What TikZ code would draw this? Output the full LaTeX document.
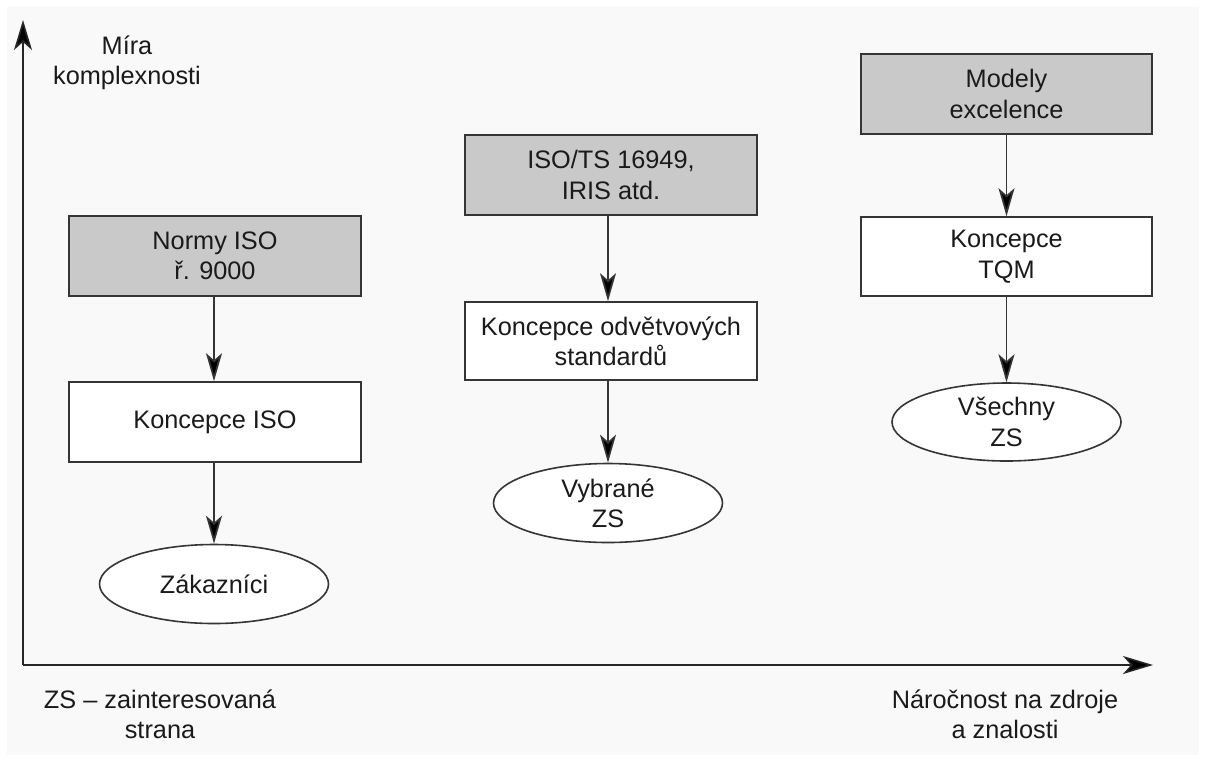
\documentclass[tikz,border=0pt]{standalone}
\usepackage{fontspec}
\setmainfont{Liberation Sans}
\usetikzlibrary{shapes.geometric,arrows.meta}
\definecolor{paper}{HTML}{F9F9F9}
\definecolor{ink}{HTML}{1A1A1A}
\definecolor{edge}{HTML}{353535}
\definecolor{shade}{HTML}{C9C9C9}
\tikzset{
  every node/.style={font=\fontsize{25.3}{30.4}\selectfont, text=ink, align=center},
  box/.style={draw=edge, line width=1.6pt, rectangle, inner sep=0pt,
              minimum width=292pt, minimum height=80pt},
  normbox/.style={box, fill=shade},
  party/.style={draw=edge, line width=1.6pt, ellipse, inner sep=0pt, fill=white,
                minimum width=229pt, minimum height=79pt},
  flow/.style={draw=edge, line width=1.7pt,
               -{Stealth[length=28pt, width=16pt, inset=7pt, fill=black]}},
  axis/.style={draw=black!85, line width=1.6pt,
               -{Stealth[length=30pt, width=18pt, inset=8pt, fill=black]}},
}
\begin{document}
\begin{tikzpicture}[x=1pt, y=-1pt]
  \useasboundingbox (0,0) rectangle (1206,764);
  \fill[white] (0,0) rectangle (1206,764);
  \fill[paper] (7,7) rectangle (1199,755);

  % axes
  \coordinate (O) at (23,665);
  \coordinate (ytip) at (23,20);
  \coordinate (xtip) at (1153,665);
  \draw[axis] (O) -- (ytip);
  \draw[axis] (O) -- (xtip);

  \node (ylab) at (127,63) {Míra\\komplexnosti};
  \node (xlab) at (1005,714) {Náročnost na zdroje\\a znalosti};
  \node (note) at (160,714) {ZS – zainteresovaná\\strana};

  % ISO 9000 column
  \node[normbox] (b1) at (215,256) {Normy ISO\\ř. 9000};
  \node[box, fill=white] (c1) at (215,422) {Koncepce ISO};
  \node[party] (e1) at (214,584) {Zákazníci};

  % sector standards column
  \node[normbox] (b2) at (611,175) {ISO/TS 16949,\\IRIS atd.};
  \node[box, fill=white, minimum height=78pt] (c2) at (611,341) {Koncepce odvětvových\\standardů};
  \node[party] (e2) at (608,503) {Vybrané\\ZS};

  % excellence column
  \node[normbox, minimum width=291pt] (b3) at (1006.5,94) {Modely\\excelence};
  \node[box, fill=white, minimum width=291pt, minimum height=79pt] (c3) at (1006.5,256.5) {Koncepce\\TQM};
  \node[party, minimum height=78pt] (e3) at (1006.5,422) {Všechny\\ZS};

  % connectors, vertical at the x of the ellipse below
  \draw[flow] (b1.south -| e1) -- (c1.north -| e1);
  \draw[flow] (c1.south -| e1) -- (e1.north);
  \draw[flow] (b2.south -| e2) -- (c2.north -| e2);
  \draw[flow] (c2.south -| e2) -- (e2.north);
  \draw[flow] (b3) -- (c3);
  \draw[flow] (c3) -- (e3);
\end{tikzpicture}
\end{document}
